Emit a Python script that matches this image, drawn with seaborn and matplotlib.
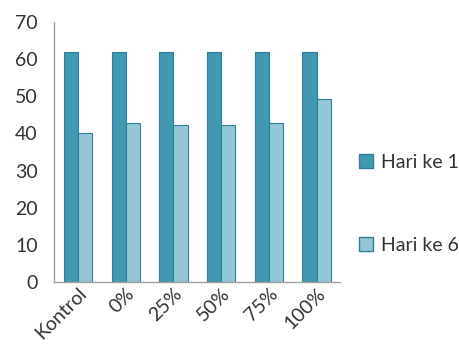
import matplotlib
matplotlib.use("Agg")
import matplotlib.pyplot as plt
import seaborn as sns
import pandas as pd
from matplotlib.patches import Patch

categories = ["Kontrol", "0%", "25%", "50%", "75%", "100%"]
series_names = ["Hari ke 1", "Hari ke 6"]
hari1 = [62, 62, 62, 62, 62, 62]
hari6 = [40, 42.8, 42.2, 42.2, 42.7, 49.2]
colors = ["#4198B0", "#93C5D6"]
edge = "#2F7F96"

df = pd.DataFrame({
    "cat": categories * 2,
    "series": [series_names[0]] * len(categories) + [series_names[1]] * len(categories),
    "value": hari1 + hari6,
})

sns.set_style("white")
plt.rcParams["font.family"] = ["Lato", "DejaVu Sans"]

fig = plt.figure(figsize=(4.6, 3.64), dpi=100)
ax = fig.add_axes([0.118, 0.225, 0.622, 0.715])
sns.barplot(data=df, x="cat", y="value", hue="series", palette=colors,
            saturation=1, width=0.6, ax=ax, legend=False,
            edgecolor=edge, linewidth=0.8)

ax.set_ylim(0, 70)
ax.set_yticks(range(0, 71, 10))
ax.set_xlabel("")
ax.set_ylabel("")
for s in ["top", "right"]:
    ax.spines[s].set_visible(False)
for s in ["left", "bottom"]:
    ax.spines[s].set_color("#A0A0A0")
    ax.spines[s].set_linewidth(1.0)
ax.tick_params(axis="y", length=0, labelsize=14, colors="#333333", pad=12)
ax.tick_params(axis="x", length=0, labelsize=14, colors="#333333", pad=2)
plt.setp(ax.get_xticklabels(), rotation=45, ha="right", rotation_mode="anchor")

handles = [Patch(facecolor=colors[i], edgecolor=edge, label=series_names[i]) for i in range(2)]
fig.legend(handles=handles, loc="center left", bbox_to_anchor=(0.78, 0.44),
           frameon=False, fontsize=14, labelspacing=3.4, handlelength=0.75,
           handleheight=0.75, handletextpad=0.4, borderpad=0, borderaxespad=0,
           labelcolor="#333333")

fig.savefig("out.png", dpi=100)
